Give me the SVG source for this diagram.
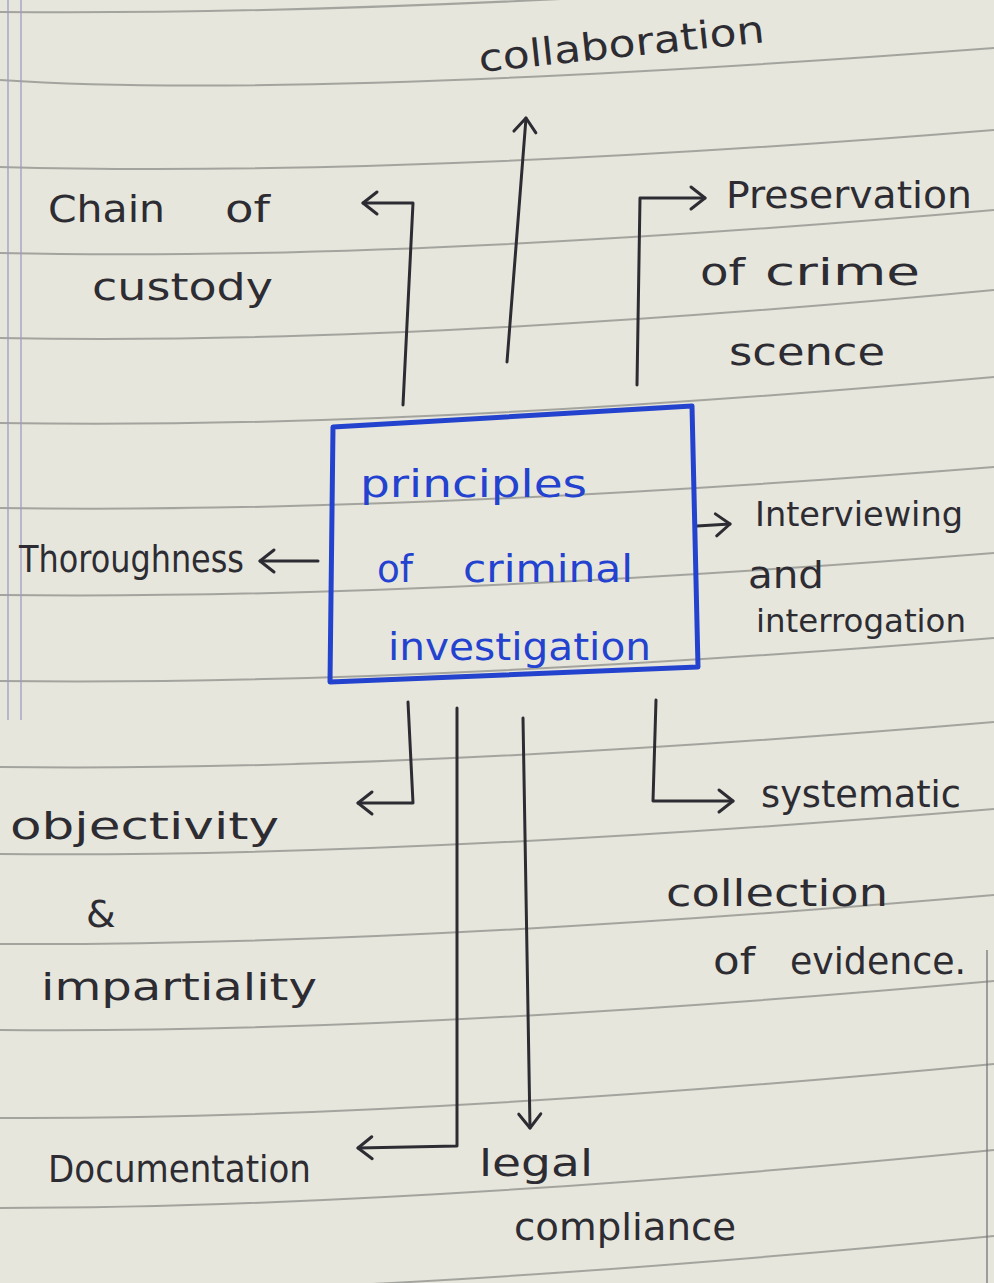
<svg xmlns="http://www.w3.org/2000/svg" width="994" height="1283" viewBox="0 0 994 1283">
<defs>
<style>
.ink{font-family:"DejaVu Sans","Liberation Sans",sans-serif;font-size:38px;fill:#2d2c33}
.blue{font-family:"DejaVu Sans","Liberation Sans",sans-serif;font-size:37px;fill:#2342d0}
.rule{fill:none;stroke:#8e8e8a;stroke-width:2;opacity:0.75}
.margin{stroke:#9d9cc4;stroke-width:1.6;opacity:0.8}
.conn{fill:none;stroke:#2d2c33;stroke-width:3;stroke-linejoin:round;stroke-linecap:round}
</style>
<marker id="arr" viewBox="-18 -14 22 28" refX="0" refY="0" markerWidth="22" markerHeight="28" markerUnits="userSpaceOnUse" orient="auto">
<path d="M-14,-11 L0,0 L-14,11" fill="none" stroke="#2d2c33" stroke-width="3" stroke-linecap="round" stroke-linejoin="round"/>
</marker>
</defs>
<rect x="0" y="0" width="994" height="1283" fill="#e7e6dc"/>
<g id="paper">
<path class="rule" d="M0,12 Q400,16 994,-28"/>
<path class="rule" d="M0,80 Q300,100 994,48"/>
<path class="rule" d="M0,167 Q400,178 994,130"/>
<path class="rule" d="M0,253 Q400,262 994,210"/>
<path class="rule" d="M0,338 Q400,346 994,290"/>
<path class="rule" d="M0,423 Q400,430 994,377"/>
<path class="rule" d="M0,508 Q400,514 994,467"/>
<path class="rule" d="M0,595 Q400,600 994,553"/>
<path class="rule" d="M0,681 Q400,686 994,638"/>
<path class="rule" d="M0,767 Q400,772 994,722"/>
<path class="rule" d="M0,854 Q400,858 994,809"/>
<path class="rule" d="M0,944 Q400,946 994,895"/>
<path class="rule" d="M0,1030 Q400,1034 994,981"/>
<path class="rule" d="M0,1118 Q400,1120 994,1064"/>
<path class="rule" d="M0,1208 Q400,1208 994,1150"/>
<path class="rule" d="M0,1295 Q400,1294 994,1236"/>
<line class="margin" x1="8" y1="0" x2="8" y2="720"/>
<line class="margin" x1="21" y1="0" x2="21" y2="720"/>
<line x1="987" y1="950" x2="987" y2="1283" stroke="#6d6d70" stroke-width="2" opacity="0.6"/>
</g>
<g id="connectors">
<polyline class="conn" points="403,405 413,203 363,203" marker-end="url(#arr)"/>
<polyline class="conn" points="507,362 526,118" marker-end="url(#arr)"/>
<polyline class="conn" points="637,385 640,198 705,198" marker-end="url(#arr)"/>
<polyline class="conn" points="318,561 260,561" marker-end="url(#arr)"/>
<polyline class="conn" points="697,526 730,524" marker-end="url(#arr)"/>
<polyline class="conn" points="408,702 413,803 358,803" marker-end="url(#arr)"/>
<polyline class="conn" points="457,708 457,1146 358,1148" marker-end="url(#arr)"/>
<polyline class="conn" points="523,718 530,1128" marker-end="url(#arr)"/>
<polyline class="conn" points="656,700 653,801 733,801" marker-end="url(#arr)"/>
</g>
<g id="center">
<polygon points="333,427 692,406 698,667 330,682" fill="none" stroke="#2343cf" stroke-width="5" stroke-linejoin="round"/>
<text class="blue"><tspan x="360" y="497" textLength="227" lengthAdjust="spacingAndGlyphs">principles</tspan><tspan x="377" y="582" textLength="36" lengthAdjust="spacingAndGlyphs">of</tspan><tspan x="463" y="582" textLength="170" lengthAdjust="spacingAndGlyphs">criminal</tspan><tspan x="388" y="660" textLength="263" lengthAdjust="spacingAndGlyphs">investigation</tspan></text>
</g>
<g id="collaboration">
<text class="ink" x="480" y="72" transform="rotate(-6 480 72)" textLength="287" lengthAdjust="spacingAndGlyphs">collaboration</text>
</g>
<g id="chain-of-custody">
<text class="ink"><tspan x="48" y="222" textLength="117" lengthAdjust="spacingAndGlyphs">Chain</tspan><tspan x="225" y="222" textLength="45" lengthAdjust="spacingAndGlyphs">of</tspan><tspan x="92" y="300" textLength="181" lengthAdjust="spacingAndGlyphs">custody</tspan></text>
</g>
<g id="preservation">
<text class="ink"><tspan x="726" y="208" textLength="246" lengthAdjust="spacingAndGlyphs">Preservation</tspan><tspan x="700" y="285" textLength="45" lengthAdjust="spacingAndGlyphs">of</tspan><tspan x="765" y="285" textLength="155" lengthAdjust="spacingAndGlyphs">crime</tspan><tspan x="729" y="365" textLength="156" lengthAdjust="spacingAndGlyphs">scence</tspan></text>
</g>
<g id="thoroughness">
<text class="ink" x="19" y="572" textLength="225" lengthAdjust="spacingAndGlyphs">Thoroughness</text>
</g>
<g id="interviewing">
<text class="ink"><tspan x="755" y="526" style="font-size:34px" textLength="208" lengthAdjust="spacingAndGlyphs">Interviewing</tspan><tspan x="748" y="588" textLength="76" lengthAdjust="spacingAndGlyphs">and</tspan><tspan x="756" y="632" style="font-size:32px" textLength="210" lengthAdjust="spacingAndGlyphs">interrogation</tspan></text>
</g>
<g id="objectivity">
<text class="ink"><tspan x="10" y="839" textLength="269" lengthAdjust="spacingAndGlyphs">objectivity</tspan><tspan x="86" y="927">&amp;</tspan><tspan x="41" y="1000" textLength="276" lengthAdjust="spacingAndGlyphs">impartiality</tspan></text>
</g>
<g id="documentation">
<text class="ink" x="48" y="1182" textLength="263" lengthAdjust="spacingAndGlyphs">Documentation</text>
</g>
<g id="legal-compliance">
<text class="ink"><tspan x="479" y="1176" textLength="114" lengthAdjust="spacingAndGlyphs">legal</tspan><tspan x="514" y="1240" textLength="222" lengthAdjust="spacingAndGlyphs">compliance</tspan></text>
</g>
<g id="systematic">
<text class="ink"><tspan x="761" y="807" textLength="200" lengthAdjust="spacingAndGlyphs">systematic</tspan><tspan x="666" y="906" textLength="222" lengthAdjust="spacingAndGlyphs">collection</tspan><tspan x="713" y="974" textLength="42" lengthAdjust="spacingAndGlyphs">of</tspan><tspan x="790" y="974" textLength="176" lengthAdjust="spacingAndGlyphs">evidence.</tspan></text>
</g>
</svg>
